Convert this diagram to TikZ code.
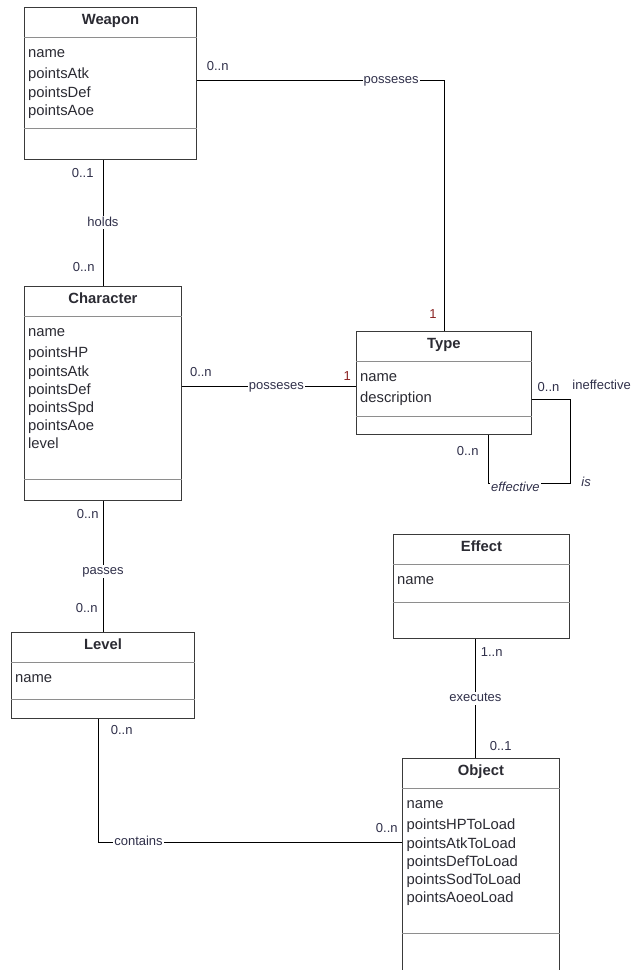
\documentclass[tikz,border=0pt]{standalone}
\usepackage{fontspec}
\setmainfont{Liberation Sans}
\usetikzlibrary{positioning}
\definecolor{umlInk}{HTML}{2B2B33}
\definecolor{umlLabel}{HTML}{30304A}
\definecolor{umlRed}{HTML}{8B2323}
\definecolor{umlEdge}{HTML}{3A3A3A}
\definecolor{umlRule}{HTML}{8E8E8E}

\begin{document}
\begin{tikzpicture}[
  x=1pt,y=-1pt,
  classbox/.style={draw=umlEdge,line width=0.9pt,anchor=north west,inner sep=0pt},
  classtitle/.style={font=\fontsize{14.8}{16}\selectfont\bfseries,text=umlInk,
                     inner sep=0pt,text height=10.6pt,text depth=0pt},
  attrs/.style={font=\fontsize{14.8}{18.2}\selectfont,text=umlInk,align=left,
                anchor=north west,inner sep=0pt},
  divider/.style={draw=umlRule,line width=0.8pt},
  assoc/.style={draw=black,line width=0.9pt},
  mult/.style={font=\fontsize{13}{13}\selectfont,text=umlLabel,inner sep=1pt,
               text height=9pt,text depth=2pt},
  one/.style={mult,text=umlRed},
  rel/.style={mult,fill=white},
]
  \useasboundingbox (0,0) rectangle (632,970);
  \clip (0,0) rectangle (632,970);
  \fill[white] (0,0) rectangle (632,970);

  % classes
  \node[classbox,minimum width=172pt,minimum height=152pt] (weapon) at (24,7) {};
  \node[classtitle] at ([yshift=-12.5pt]weapon.north) {Weapon};
  \draw[divider] ([yshift=-30pt]weapon.north west) -- ([yshift=-30pt]weapon.north east);
  \draw[divider] ([yshift=-121pt]weapon.north west) -- ([yshift=-121pt]weapon.north east);
  \node[attrs] at ([xshift=4pt,yshift=-38pt]weapon.north west)
    {\strut name\\[2.8pt]pointsAtk\\pointsDef\\pointsAoe};

  \node[classbox,minimum width=157pt,minimum height=214pt] (character) at (24,286) {};
  \node[classtitle] at ([yshift=-12.5pt]character.north) {Character};
  \draw[divider] ([yshift=-30pt]character.north west) -- ([yshift=-30pt]character.north east);
  \draw[divider] ([yshift=-193pt]character.north west) -- ([yshift=-193pt]character.north east);
  \node[attrs] at ([xshift=4pt,yshift=-38pt]character.north west)
    {\strut name\\[2.8pt]pointsHP\\pointsAtk\\pointsDef\\pointsSpd\\pointsAoe\\level};

  \node[classbox,minimum width=175pt,minimum height=103pt] (type) at (356,331) {};
  \node[classtitle] at ([yshift=-12.5pt]type.north) {Type};
  \draw[divider] ([yshift=-30pt]type.north west) -- ([yshift=-30pt]type.north east);
  \draw[divider] ([yshift=-85pt]type.north west) -- ([yshift=-85pt]type.north east);
  \node[attrs] at ([xshift=4pt,yshift=-38pt]type.north west)
    {\strut name\\[2.8pt]description};

  \node[classbox,minimum width=176pt,minimum height=104pt] (effect) at (393,534) {};
  \node[classtitle] at ([yshift=-12.5pt]effect.north) {Effect};
  \draw[divider] ([yshift=-30pt]effect.north west) -- ([yshift=-30pt]effect.north east);
  \draw[divider] ([yshift=-68pt]effect.north west) -- ([yshift=-68pt]effect.north east);
  \node[attrs] at ([xshift=4pt,yshift=-38pt]effect.north west) {\strut name};

  \node[classbox,minimum width=183pt,minimum height=86pt] (level) at (11,632) {};
  \node[classtitle] at ([yshift=-12.5pt]level.north) {Level};
  \draw[divider] ([yshift=-30pt]level.north west) -- ([yshift=-30pt]level.north east);
  \draw[divider] ([yshift=-67pt]level.north west) -- ([yshift=-67pt]level.north east);
  \node[attrs] at ([xshift=4pt,yshift=-38pt]level.north west) {\strut name};

  \node[classbox,minimum width=157pt,minimum height=215pt] (object) at (402,758) {};
  \node[classtitle] at ([yshift=-12.5pt]object.north) {Object};
  \draw[divider] ([yshift=-30pt]object.north west) -- ([yshift=-30pt]object.north east);
  \draw[divider] ([yshift=-175pt]object.north west) -- ([yshift=-175pt]object.north east);
  \node[attrs] at ([xshift=4.5pt,yshift=-38pt]object.north west)
    {\strut name\\[2.8pt]pointsHPToLoad\\pointsAtkToLoad\\pointsDefToLoad\\pointsSodToLoad\\pointsAoeoLoad};

  % associations
  \draw[assoc] ([yshift=3pt]weapon.east) -|
      node[mult,pos=0.042,above=6.5pt] {0..n}
      node[rel,pos=0.393] {posseses}
      node[one,pos=0.968,left=6pt] {1} (type.north);

  \draw[assoc] (character.north) --
      node[mult,pos=0.142,left=7pt] {0..n}
      node[rel] {holds}
      node[mult,pos=0.89,left=8pt] {0..1} (character.north |- weapon.south);

  \coordinate (ctyp) at ([yshift=-3.5pt]type.west);
  \draw[assoc] (ctyp -| character.east) --
      node[mult,pos=0.109,above=6.5pt] {0..n}
      node[rel,pos=0.543] {posseses}
      node[one,pos=0.949,above=2.5pt] {1} (ctyp);

  \coordinate (tloop) at (570,483);
  \draw[assoc] ([yshift=-16.5pt]type.east) -|
      node[mult,pos=0.218,above=4.5pt] {0..n}
      node[mult,pos=0.5,right=1pt,yshift=13pt] {ineffective}
      node[mult,pos=1,right=10pt,font=\fontsize{13}{13}\selectfont\itshape] {is} (tloop) -|
      node[rel,pos=0.335,yshift=-5pt,font=\fontsize{13}{13}\selectfont\itshape] {effective}
      node[mult,pos=0.827,left=8.5pt] {0..n} ([xshift=44.5pt]type.south);

  \draw[assoc] (character.south) --
      node[mult,pos=0.106,left=3pt] {0..n}
      node[rel,pos=0.538] {passes}
      node[mult,pos=0.826,left=4pt] {0..n} (level.north);

  \coordinate (lvl) at ([xshift=-4.5pt]level.south);
  \coordinate (objin) at ([yshift=-84pt]object.north west);
  \draw[assoc] (lvl) |-
      node[mult,pos=0.048,right=11pt] {0..n}
      node[rel,pos=0.566] {contains}
      node[mult,pos=0.975,above=6.5pt] {0..n} (objin);

  \coordinate (eff) at ([xshift=-6pt]effect.south);
  \draw[assoc] (eff) --
      node[mult,pos=0.117,right=4pt] {1..n}
      node[rel] {executes}
      node[mult,pos=0.908,right=13pt] {0..1} (eff |- object.north);
\end{tikzpicture}
\end{document}
